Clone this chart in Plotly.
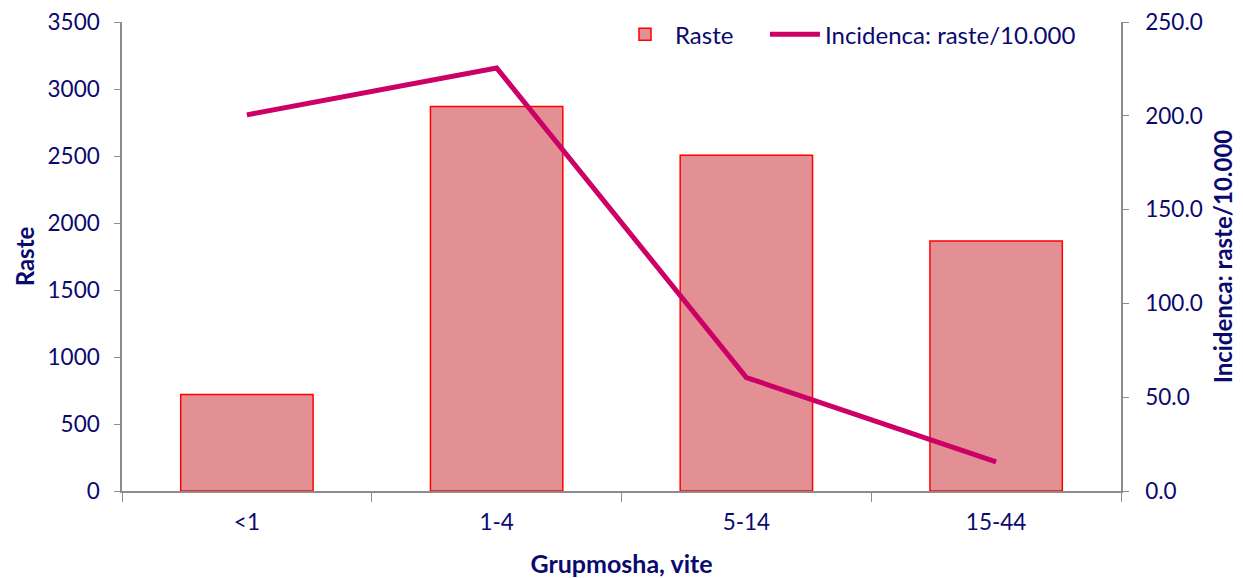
import plotly.graph_objects as go

categories = ["<1", "1-4", "5-14", "15-44"]
raste = [720, 2870, 2505, 1865]
incidenca = [200.5, 225.5, 60.5, 15.5]

navy = "#0a0a6e"
font_family = "Lato, 'Open Sans', sans-serif"

fig = go.Figure()
fig.add_trace(go.Bar(
    x=categories, y=raste, name="Raste",
    marker=dict(color="#e29094", line=dict(color="#ff0000", width=1.5)),
    width=0.53, yaxis="y", legend="legend",
))
fig.add_trace(go.Scatter(
    x=categories, y=incidenca, name="Incidenca: raste/10.000",
    mode="lines", line=dict(color="#cc0066", width=5), yaxis="y2", legend="legend2",
))

axis_common = dict(showgrid=False, zeroline=False, showline=True, linecolor="#8c8c8c",
                   linewidth=1.5, ticks="outside", tickcolor="#8c8c8c", automargin=False,
                   ticklabeloverflow="allow",
                   tickfont=dict(size=22.5, color=navy, family=font_family))

legend_common = dict(orientation="h", y=1.021, xanchor="left", yanchor="top",
                     font=dict(size=24, color=navy), bgcolor="rgba(0,0,0,0)", itemwidth=50)

fig.update_layout(
    width=1235, height=570,
    margin=dict(l=114, r=122, t=14, b=87, autoexpand=False),
    plot_bgcolor="white", paper_bgcolor="white",
    font=dict(family=font_family, color=navy),
    xaxis=dict(**axis_common, type="category", range=[-0.5, 3.5], tickson="boundaries",
               ticklen=9, ticklabelstandoff=10,
               title=dict(text="<b>Grupmosha, vite</b>", font=dict(size=25, color=navy), standoff=24)),
    yaxis=dict(**axis_common, range=[0, 3500], dtick=500, ticklen=6, ticklabelstandoff=10,
               title=dict(text="<b>Raste</b>", font=dict(size=24, color=navy), standoff=6)),
    yaxis2=dict(**axis_common, range=[0, 250], dtick=50, tickformat=".1f", overlaying="y", side="right",
                ticklen=6, ticklabelstandoff=12,
                title=dict(text="<b>Incidenca: raste/10.000</b>", font=dict(size=24, color=navy), standoff=13)),
    legend=dict(**legend_common, x=0.4935),
    legend2=dict(**legend_common, x=0.6436),
    showlegend=True,
)

fig.write_html("out.html")
